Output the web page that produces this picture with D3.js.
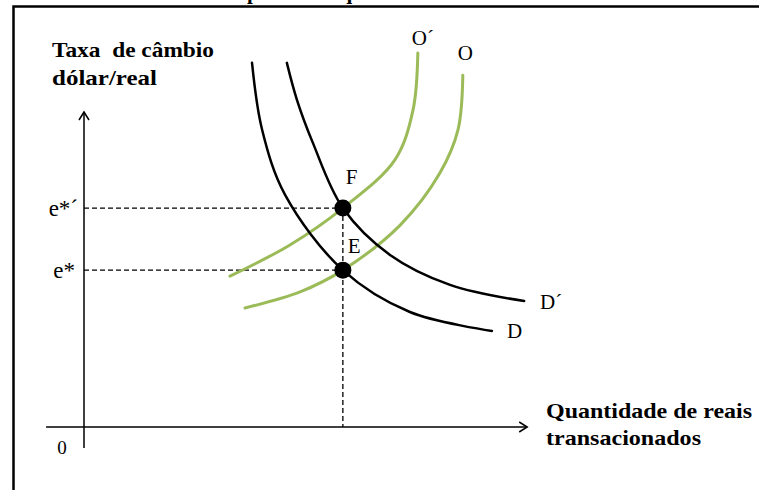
<!DOCTYPE html>
<html lang="pt">
<head>
<meta charset="UTF-8">
<title>Mercado de câmbio</title>
<script src="https://d3js.org/d3.v7.min.js"></script>
<style>
  body { margin: 0; background: #fff; }
  svg text { font-family: "Liberation Serif", "Times New Roman", serif; fill: #000; }
  .bold { font-weight: bold; font-size: 21px; white-space: pre; }
</style>
</head>
<body>
<svg id="chart" width="759" height="490"></svg>
<script>
// points: [quantidade, taxa de câmbio], axis units 0..10
const curveD  = [[3.81,11.56],[4.04,9.43],[4.56,7.37],[5.87,4.98],[7.39,3.65],[9.25,3.05]];
const curveD2 = [[4.60,11.56],[4.83,10.38],[5.19,9.02],[5.87,6.95],[6.94,5.46],[8.30,4.51],[9.98,4.00]];
const curveO2 = [[7.57,11.87],[7.46,10.06],[7.05,8.48],[5.87,6.95],[4.67,5.78],[3.31,4.79]];
const curveO  = [[8.59,11.17],[8.48,9.43],[8.07,8.06],[7.17,6.41],[5.87,4.98],[4.90,4.29],[3.65,3.78]];

// equilibrium points and their tick labels
const pointNames = ['F', 'E'];
const pointQ     = [5.87, 5.87];
const pointRate  = [6.95, 4.98];
const rateTicks  = ['e*\u00b4', 'e*'];

const svg = d3.select('#chart');
const x = d3.scaleLinear().domain([0, 10]).range([84, 525]);
const y = d3.scaleLinear().domain([0, 10]).range([427, 112]);

// frame (only left and top edges are visible)
svg.append('path')
    .attr('d', 'M13.5,490 L13.5,6.5 L759,6.5')
    .attr('fill', 'none')
    .attr('stroke', '#000')
    .attr('stroke-width', 2.5);

// title cut off by the top of the picture
const title = svg.append('text')
    .attr('class', 'bold')
    .attr('y', -1)
    .text('Oferta e procura: equilíbrio e deslocamentos');
const pIdx = title.text().indexOf('p');
const pPos = title.node().getStartPositionOfChar(pIdx).x;
title.attr('x', 247 - pPos);

// axes
const g = svg.append('g');
g.append('line')
    .attr('x1', x(-0.86)).attr('x2', x(10.05))
    .attr('y1', y(0)).attr('y2', y(0))
    .attr('stroke', '#000').attr('stroke-width', 1.5);
g.append('line')
    .attr('x1', x(0)).attr('x2', x(0))
    .attr('y1', y(-0.67)).attr('y2', y(10))
    .attr('stroke', '#000').attr('stroke-width', 1.5);
// arrow heads
g.append('path')
    .attr('d', `M${x(10.05) - 8},${y(0) - 5} L${x(10.05)},${y(0)} L${x(10.05) - 8},${y(0) + 5}`)
    .attr('fill', 'none').attr('stroke', '#000').attr('stroke-width', 1.5);
g.append('path')
    .attr('d', `M${x(0) - 5},${y(10) + 8} L${x(0)},${y(10)} L${x(0) + 5},${y(10) + 8}`)
    .attr('fill', 'none').attr('stroke', '#000').attr('stroke-width', 1.5);

// dashed guides
pointRate.forEach((r, i) => {
    g.append('line')
        .attr('x1', x(0)).attr('x2', x(pointQ[i]))
        .attr('y1', y(r)).attr('y2', y(r))
        .attr('stroke', '#000').attr('stroke-width', 1.3)
        .attr('stroke-dasharray', '5,3');
});
g.append('line')
    .attr('x1', x(pointQ[0])).attr('x2', x(pointQ[0]))
    .attr('y1', y(d3.max(pointRate))).attr('y2', y(0))
    .attr('stroke', '#000').attr('stroke-width', 1.3)
    .attr('stroke-dasharray', '5,3');

// curves
const line = d3.line()
    .x(d => x(d[0]))
    .y(d => y(d[1]))
    .curve(d3.curveCatmullRom.alpha(0.5));

const curves = [
    { data: curveO2, color: '#9bbb59', width: 3 },
    { data: curveO,  color: '#9bbb59', width: 3 },
    { data: curveD,  color: '#000',    width: 2.5 },
    { data: curveD2, color: '#000',    width: 2.5 }
];
curves.forEach(c => {
    g.append('path')
        .datum(c.data)
        .attr('fill', 'none')
        .attr('stroke', c.color)
        .attr('stroke-width', c.width)
        .attr('stroke-linecap', 'round')
        .attr('d', line);
});

// equilibrium dots
g.selectAll('circle')
    .data(pointQ)
    .enter().append('circle')
    .attr('cx', d => x(d))
    .attr('cy', (d, i) => y(pointRate[i]))
    .attr('r', 8.5)
    .attr('fill', '#000');

// point labels
const labelOffsets = [[3, -24], [5, -17]];
pointNames.forEach((n, i) => {
    g.append('text')
        .attr('x', x(pointQ[i]) + labelOffsets[i][0])
        .attr('y', y(pointRate[i]) + labelOffsets[i][1])
        .style('font-size', '21px')
        .text(n);
});

// curve labels, placed from the curve ends
const curveLabels = [
    { text: 'O\u00b4', at: curveO2[0], dx: -6, dy: -8 },
    { text: 'O',      at: curveO[0],  dx: -5, dy: -15 },
    { text: 'D\u00b4', at: curveD2[curveD2.length - 1], dx: 16, dy: 8 },
    { text: 'D',      at: curveD[curveD.length - 1],  dx: 15, dy: 7 }
];
curveLabels.forEach(l => {
    g.append('text')
        .attr('x', x(l.at[0]) + l.dx)
        .attr('y', y(l.at[1]) + l.dy)
        .style('font-size', '21px')
        .text(l.text);
});

// rate tick labels
rateTicks.forEach((t, i) => {
    g.append('text')
        .attr('x', i === 0 ? 78 : 75)
        .attr('y', y(pointRate[i]))
        .attr('dy', '0.35em')
        .attr('text-anchor', 'end')
        .style('font-size', '23px')
        .text(t);
});
g.append('text')
    .attr('x', 62).attr('y', y(-0.65))
    .attr('dy', '0.35em')
    .attr('text-anchor', 'middle')
    .style('font-size', '19px')
    .text('0');

// axis titles (the original lettering is a little wider than the font)
const titles = [
    { text: 'Taxa  de câmbio', x: 52, y: 57, w: 162 },
    { text: 'dólar/real', x: 52, y: 85, w: 105 },
    { text: 'Quantidade de reais', x: 546, y: 418, w: 206 },
    { text: 'transacionados', x: 546, y: 445, w: 155 }
];
titles.forEach(t => {
    svg.append('text')
        .attr('class', 'bold')
        .attr('x', t.x).attr('y', t.y)
        .attr('textLength', t.w)
        .attr('lengthAdjust', 'spacingAndGlyphs')
        .text(t.text);
});
</script>
</body>
</html>
